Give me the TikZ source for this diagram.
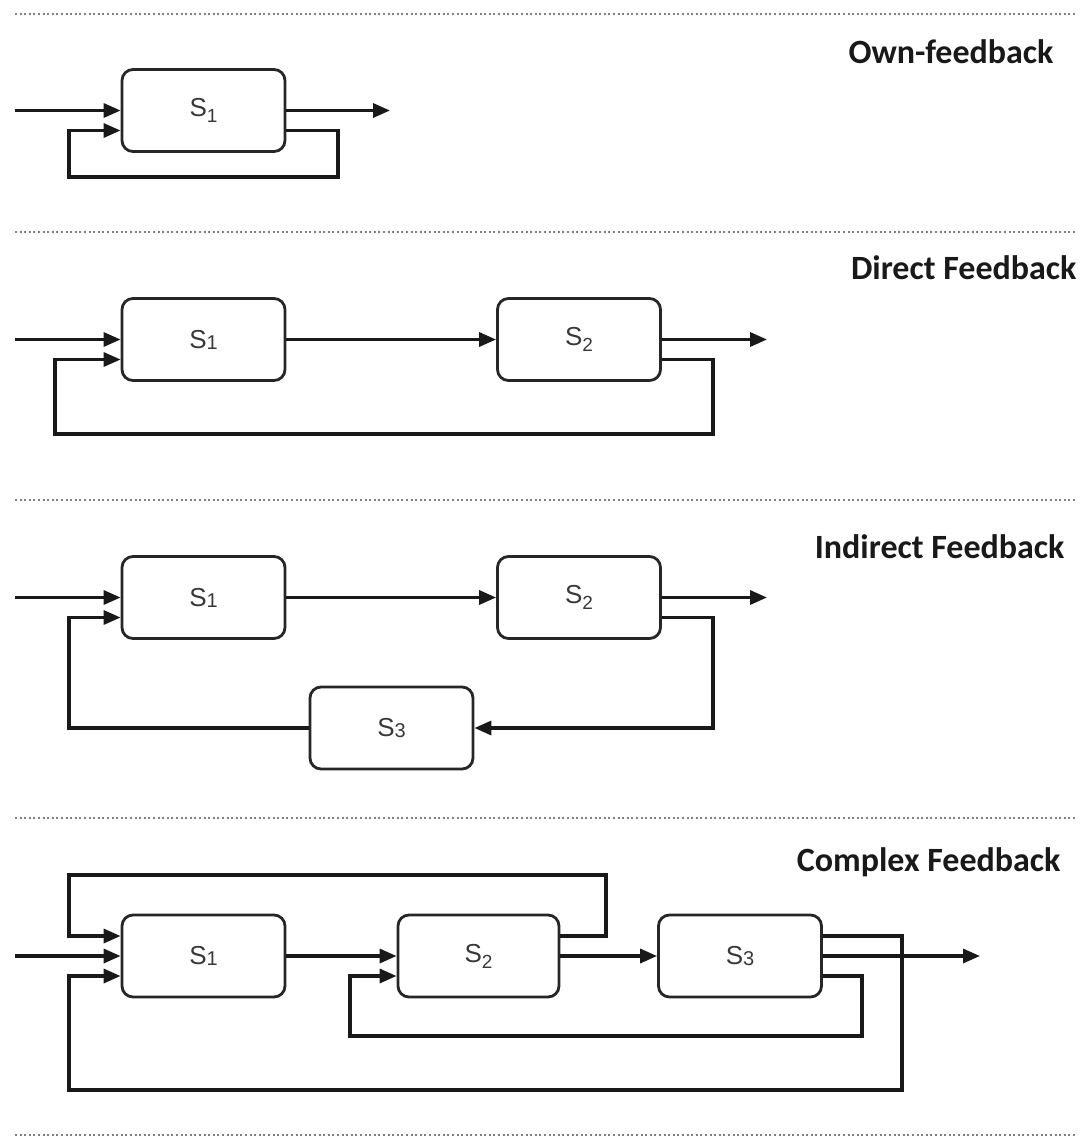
\documentclass[tikz,border=0pt]{standalone}
\usepackage{fontspec}
\setmainfont{Liberation Sans}
\newfontfamily\titlefont{Carlito}
\usetikzlibrary{arrows.meta,calc}

% subscript-like index and a small same-line index
\newcommand{\idxsub}[1]{\raisebox{-6pt}{\fontsize{19}{19}\selectfont #1}}
\newcommand{\idxlow}[1]{\raisebox{-1pt}{\fontsize{20}{20}\selectfont #1}}

\begin{document}
\begin{tikzpicture}[x=1pt,y=-1pt,
  sysbox/.style={draw=black!85, line width=2.8pt, rounded corners=11pt,
    minimum width=163pt, minimum height=82pt, inner sep=0pt,
    font=\fontsize{26}{26}\selectfont, text=black!78},
  conn/.style={line width=3.3pt, black!90},
  arr/.style={conn, -{Triangle[length=17pt,width=14pt]}},
  sep/.style={black!50, line width=2pt, dash pattern=on 2pt off 2.6pt},
  heading/.style={font=\titlefont\bfseries\fontsize{34}{34}\selectfont, text=black!90, anchor=east}
]
\useasboundingbox (0,0) rectangle (1083,1144);

% separators
\foreach \yy in {14,232,500,818,1135}
  \draw[sep] (15,\yy) -- (1076,\yy);

% ---------------- Own-feedback ----------------
\node[heading] (t1) at (1057,52) {Own-feedback};
\node[sysbox] (a1) at (203.5,110.5) {S\idxsub{1}};
\coordinate (a1in) at (15,110.5);
\coordinate (a1out) at (390,110.5);
\draw[arr] (a1in) -- (a1.west);
\draw[arr] (a1.east) -- (a1out);
\draw[arr] ([yshift=-20pt]a1.east) -| (338,177) -| (69,130.5) -- ([yshift=-20pt]a1.west);

% ---------------- Direct Feedback ----------------
\node[heading] (t2) at (1080,268) {Direct Feedback};
\node[sysbox] (b1) at (203.5,339.5) {S\idxlow{1}};
\node[sysbox] (b2) at (579,339.5) {S\idxsub{2}};
\coordinate (b1in) at (15,339.5);
\coordinate (b2out) at (767,339.5);
\draw[arr] (b1in) -- (b1.west);
\draw[arr] (b1.east) -- (b2.west);
\draw[arr] (b2.east) -- (b2out);
\draw[arr] ([yshift=-20pt]b2.east) -| (713,434) -| (55,359.5) -- ([yshift=-20pt]b1.west);

% ---------------- Indirect Feedback ----------------
\node[heading] (t3) at (1068,547) {Indirect Feedback};
\node[sysbox] (c1) at (203.5,597.5) {S\idxlow{1}};
\node[sysbox] (c2) at (579,597.5) {S\idxsub{2}};
\node[sysbox] (c3) at (391.5,728) {S\idxlow{3}};
\coordinate (c1in) at (15,597.5);
\coordinate (c2out) at (767,597.5);
\draw[arr] (c1in) -- (c1.west);
\draw[arr] (c1.east) -- (c2.west);
\draw[arr] (c2.east) -- (c2out);
\draw[arr] ([yshift=-20pt]c2.east) -| (713,728) -- (c3.east);
\draw[arr] (c3.west) -| (69,617.5) -- ([yshift=-20pt]c1.west);

% ---------------- Complex Feedback ----------------
\node[heading] (t4) at (1064,862) {Complex Feedback};
\node[sysbox] (d1) at (203.5,956) {S\idxlow{1}};
\node[sysbox, minimum width=161pt] (d2) at (478.5,956) {S\idxsub{2}};
\node[sysbox] (d3) at (740,956) {S\idxlow{3}};
\coordinate (d1in) at (15,956);
\coordinate (d3out) at (980,956);
\draw[arr] (d1in) -- (d1.west);
\draw[arr] (d1.east) -- (d2.west);
\draw[arr] (d2.east) -- (d3.west);
\draw[arr] (d3.east) -- (d3out);
% S2 back to S1 over the top
\draw[arr] ([yshift=20pt]d2.east) -| (606,875) -| (69,936) -- ([yshift=20pt]d1.west);
% S3 back to S2
\draw[arr] ([yshift=-20pt]d3.east) -| (862,1036) -| (350,976) -- ([yshift=-20pt]d2.west);
% S3 back to S1 underneath
\draw[arr] ([yshift=20pt]d3.east) -| (902,1090) -| (69,976) -- ([yshift=-20pt]d1.west);
\end{tikzpicture}
\end{document}
